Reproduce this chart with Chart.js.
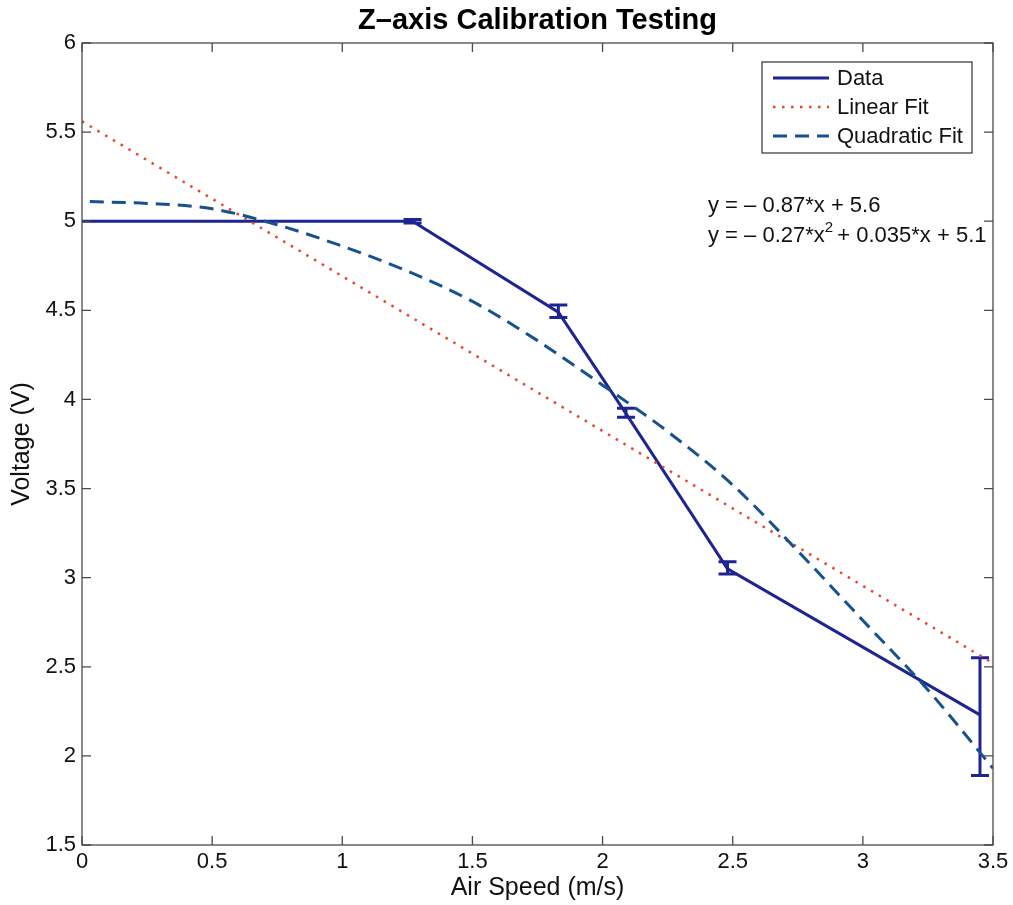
<!DOCTYPE html>
<html>
<head>
<meta charset="utf-8">
<script src="https://cdn.jsdelivr.net/npm/chart.js@4.4.1/dist/chart.umd.min.js"></script>
<style>
  html, body { margin: 0; padding: 0; background: #ffffff; }
  #wrap { width: 1013px; height: 905px; }
</style>
</head>
<body>
<div id="wrap"><canvas id="c" width="1013" height="905"></canvas></div>
<script>
// ---- data ----
const titleText = 'Z\u2013axis Calibration Testing';
const xTitle = 'Air Speed (m/s)';
const yTitle = 'Voltage (V)';

const dataX    = [0, 1.27, 1.83, 2.09, 2.48, 3.45];
const dataY    = [5.00, 5.00, 4.49, 3.92, 3.05, 2.23];
const errLow   = [5.00, 4.99, 4.46, 3.90, 3.02, 1.89];
const errHigh  = [5.00, 5.01, 4.53, 3.95, 3.09, 2.55];
const hasErr   = [false, true, true, true, true, true];

const linX = [0, 3.5];
const linY = [5.56, 2.52];

const quadX = [0.03, 0.25, 0.5, 0.75, 1.0, 1.25, 1.5, 1.75, 2.0, 2.25, 2.5, 2.75, 3.0, 3.25, 3.5];
const quadY = [5.11, 5.10, 5.07, 4.98, 4.86, 4.72, 4.55, 4.33, 4.08, 3.82, 3.52, 3.15, 2.76, 2.37, 1.93];

const legendLabels = ['Data', 'Linear Fit', 'Quadratic Fit'];
const eq1 = 'y = \u2013 0.87*x + 5.6';
const eq2a = 'y = \u2013 0.27*x';
const eq2sup = '2';
const eq2b = ' + 0.035*x + 5.1';

const xTicks = [0, 0.5, 1, 1.5, 2, 2.5, 3, 3.5];
const yTicks = [1.5, 2, 2.5, 3, 3.5, 4, 4.5, 5, 5.5, 6];

// ---- styles ----
const FONT = '"Liberation Sans", Arial, Helvetica, sans-serif';
const cData = '#1f2590';
const cLin = '#e8462c';
const cQuad = '#17528c';

const pts = (xs, ys) => xs.map((x, i) => ({ x: x, y: ys[i] }));

const errorBarPlugin = {
  id: 'errorBars',
  afterDatasetDraw(chart, args) {
    if (args.index !== 0) return;
    const ctx = chart.ctx, xs = chart.scales.x, ys = chart.scales.y;
    ctx.save();
    ctx.strokeStyle = cData;
    ctx.lineWidth = 3;
    dataX.forEach((x, i) => {
      if (!hasErr[i]) return;
      const px = xs.getPixelForValue(x);
      const pLo = ys.getPixelForValue(errLow[i]);
      const pHi = ys.getPixelForValue(errHigh[i]);
      ctx.beginPath();
      ctx.moveTo(px, pLo); ctx.lineTo(px, pHi);
      ctx.moveTo(px - 9, pLo); ctx.lineTo(px + 9, pLo);
      ctx.moveTo(px - 9, pHi); ctx.lineTo(px + 9, pHi);
      ctx.stroke();
    });
    ctx.restore();
  }
};

const framePlugin = {
  id: 'frame',
  afterDraw(chart) {
    const ctx = chart.ctx, a = chart.chartArea;
    const xs = chart.scales.x, ys = chart.scales.y;
    ctx.save();
    ctx.strokeStyle = '#4a4a4a';
    ctx.lineWidth = 1.3;
    ctx.strokeRect(a.left, a.top, a.right - a.left, a.bottom - a.top);
    ctx.beginPath();
    const TL = 9;
    xTicks.forEach(v => {
      const p = xs.getPixelForValue(v);
      ctx.moveTo(p, a.bottom); ctx.lineTo(p, a.bottom - TL);
      ctx.moveTo(p, a.top); ctx.lineTo(p, a.top + TL);
    });
    yTicks.forEach(v => {
      const p = ys.getPixelForValue(v);
      ctx.moveTo(a.left, p); ctx.lineTo(a.left + TL, p);
      ctx.moveTo(a.right, p); ctx.lineTo(a.right - TL, p);
    });
    ctx.stroke();

    // legend box
    const lx = 762, ly = 62, lw = 210, lh = 91;
    ctx.fillStyle = '#ffffff';
    ctx.fillRect(lx, ly, lw, lh);
    ctx.strokeStyle = '#333333';
    ctx.lineWidth = 1.2;
    ctx.strokeRect(lx, ly, lw, lh);
    const rows = [78, 107, 136];
    chart.data.datasets.forEach((ds, i) => {
      const y = rows[i];
      ctx.save();
      ctx.strokeStyle = ds.borderColor;
      ctx.lineWidth = ds.borderWidth;
      ctx.setLineDash(ds.borderDash || []);
      ctx.beginPath();
      ctx.moveTo(773, y); ctx.lineTo(829, y);
      ctx.stroke();
      ctx.restore();
      ctx.fillStyle = '#111111';
      ctx.font = '22px ' + FONT;
      ctx.textBaseline = 'middle';
      ctx.textAlign = 'left';
      ctx.fillText(ds.label, 837, y + 1);
    });

    // equations
    ctx.fillStyle = '#111111';
    ctx.font = '22px ' + FONT;
    ctx.textBaseline = 'alphabetic';
    ctx.textAlign = 'left';
    const ex = 708;
    ctx.fillText(eq1, ex, 212);
    ctx.fillText(eq2a, ex, 242);
    let w = ctx.measureText(eq2a).width;
    ctx.font = '15px ' + FONT;
    ctx.fillText(eq2sup, ex + w, 232);
    const ws = ctx.measureText(eq2sup).width;
    ctx.font = '22px ' + FONT;
    ctx.fillText(eq2b, ex + w + ws - 2, 242);
    ctx.restore();
  }
};

const fmt = v => String(v);

new Chart(document.getElementById('c'), {
  type: 'scatter',
  data: {
    datasets: [
      { label: legendLabels[0], data: pts(dataX, dataY), showLine: true, borderColor: cData, backgroundColor: cData,
        borderWidth: 3, pointRadius: 0, order: 2, tension: 0 },
      { label: legendLabels[1], data: pts(linX, linY), showLine: true, borderColor: cLin, backgroundColor: cLin,
        borderWidth: 2.5, borderDash: [2.5, 6.5], pointRadius: 0, order: 1, tension: 0 },
      { label: legendLabels[2], data: pts(quadX, quadY), showLine: true, borderColor: cQuad, backgroundColor: cQuad,
        borderWidth: 3, borderDash: [14, 8], pointRadius: 0, order: 0, cubicInterpolationMode: 'monotone', tension: 0.4 }
    ]
  },
  options: {
    responsive: false,
    animation: false,
    devicePixelRatio: 1,
    layout: { padding: { left: 0, right: 20, top: 0, bottom: 0 } },
    plugins: {
      legend: { display: false },
      tooltip: { enabled: false },
      title: {
        display: true, text: titleText, fullSize: false,
        color: '#000000',
        font: { family: FONT, size: 29, weight: 'bold', lineHeight: 1.2 },
        padding: { top: 4, bottom: 4.2 }
      }
    },
    scales: {
      x: {
        type: 'linear', min: 0, max: 3.5,
        afterFit(s) { s.height = 60; },
        afterBuildTicks(s) { s.ticks = xTicks.map(v => ({ value: v })); },
        grid: { display: false, drawTicks: false },
        border: { display: false },
        ticks: { color: '#111111', padding: 4, maxRotation: 0, autoSkip: false, callback: fmt,
                 font: { family: FONT, size: 22 } },
        title: { display: true, text: xTitle, color: '#111111',
                 font: { family: FONT, size: 25, lineHeight: 1.2 }, padding: { top: 0, bottom: 2 } }
      },
      y: {
        type: 'linear', min: 1.5, max: 6,
        afterFit(s) { s.width = 82; },
        afterBuildTicks(s) { s.ticks = yTicks.map(v => ({ value: v })); },
        grid: { display: false, drawTicks: false },
        border: { display: false },
        ticks: { color: '#111111', padding: 6, autoSkip: false, callback: fmt,
                 font: { family: FONT, size: 22 } },
        title: { display: true, text: yTitle, color: '#111111',
                 font: { family: FONT, size: 25, lineHeight: 1.2 }, padding: { top: 7, bottom: 0 } }
      }
    }
  },
  plugins: [errorBarPlugin, framePlugin]
});
</script>
</body>
</html>
